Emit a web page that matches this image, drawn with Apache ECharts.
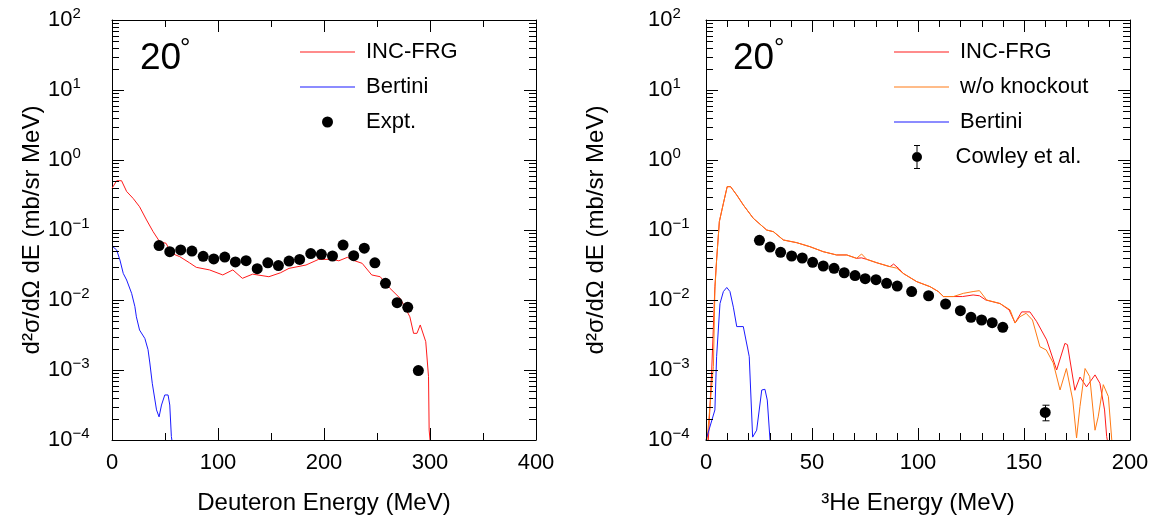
<!DOCTYPE html>
<html>
<head>
<meta charset="utf-8">
<title>20 deg spectra</title>
<script src="https://cdn.jsdelivr.net/npm/echarts@6/dist/echarts.min.js"></script>
<style>
  html, body { margin: 0; padding: 0; background: #fff; }
  #chart { width: 1158px; height: 520px; }
</style>
</head>
<body>
<div id="chart"></div>
<script>
// ---- deuteron panel (left) ----
const dIncE = [0, 4.4, 9, 13.8, 20, 26, 32.6, 38.8, 45, 51, 56, 63.8, 73, 79.5, 92, 104.5, 114, 123, 132.7, 148, 159, 167, 183, 195, 208, 214, 222, 227, 236, 245, 253, 262, 272, 281, 284.5, 287.7, 290.8, 292.3, 296, 298.6, 299.2, 300];
const dIncV = [0.394, 0.506, 0.506, 0.355, 0.282, 0.215, 0.139, 0.0946, 0.068, 0.0646, 0.0465, 0.0417, 0.0341, 0.0293, 0.0269, 0.0228, 0.0269, 0.0204, 0.0234, 0.0215, 0.0245, 0.0283, 0.0316, 0.0381, 0.0381, 0.0363, 0.0407, 0.0372, 0.0334, 0.0228, 0.0215, 0.0148, 0.0105, 0.00575, 0.00334, 0.00334, 0.0044, 0.0044, 0.00254, 0.000804, 0.000139, 0.0001];

const dBerE = [0, 4.4, 7.5, 10.6, 13.8, 18.5, 21.6, 23, 26, 31, 34, 35.7, 38, 42, 44.4, 46.7, 49.8, 52.9, 54.5, 56, 56.5];
const dBerV = [0.059, 0.0518, 0.0372, 0.024, 0.0193, 0.01245, 0.00803, 0.00575, 0.00372, 0.00282, 0.00195, 0.00126, 0.000646, 0.000269, 0.000214, 0.000316, 0.00044, 0.00044, 0.000316, 0.000112, 0.0001];

const dExpE = [44.4, 54.5, 64.8, 75.4, 86, 96, 106.4, 116.4, 126.5, 137, 147, 157, 167, 177, 187.5, 197.5, 208, 218, 228, 238, 248, 258, 269, 279, 289];
const dExpV = [0.06, 0.049, 0.052, 0.05, 0.042, 0.0386, 0.041, 0.035, 0.0365, 0.028, 0.034, 0.031, 0.036, 0.038, 0.046, 0.045, 0.0425, 0.061, 0.043, 0.055, 0.034, 0.0173, 0.00917, 0.00785, 0.00098];

// ---- 3He panel (right) ----
const hIncE = [1.1, 2.7, 4.2, 5, 6.3, 8.2, 10, 11.6, 14.5, 17.6, 22.3, 28.6, 31.8, 36.5, 42.8, 49, 55.3, 61.6, 66.4, 71, 73.4, 75.8, 80.5, 86.8, 88.5, 91, 93, 99.4, 105.7, 109.6, 112, 116.7, 121, 126, 129, 132, 138.7, 143, 145.8, 148.9, 152.8, 156, 160.7, 165.4, 169.3, 170.5, 174, 176.4, 179.5, 183.5, 185.8, 188, 189, 189.3];
const hIncV = [0.0001, 0.001, 0.0155, 0.0372, 0.132, 0.24, 0.416, 0.416, 0.316, 0.228, 0.147, 0.1, 0.0946, 0.072, 0.0659, 0.0578, 0.049, 0.044, 0.044, 0.0394, 0.04, 0.0381, 0.0341, 0.0299, 0.0326, 0.028, 0.024, 0.0183, 0.0155, 0.0132, 0.0112, 0.0112, 0.0112, 0.0118, 0.0115, 0.01, 0.0089, 0.0072, 0.0047, 0.00676, 0.00676, 0.0049, 0.00269, 0.001, 0.0024, 0.0023, 0.000513, 0.000794, 0.000575, 0.000851, 0.000646, 0.000269, 0.000112, 0.0001];

const hNoKoE = [0.5, 3.5, 4.2, 5, 6.3, 8.2, 10, 11.6, 14.5, 17.6, 22.3, 28.6, 31.8, 36.5, 42.8, 49, 55.3, 61.6, 66.4, 71, 73.4, 75.8, 80.5, 86.8, 90, 93, 99.4, 105.7, 109.6, 112, 116.7, 121.4, 126, 129, 132.4, 138.7, 143.4, 145.8, 148, 151, 154, 157.5, 160.5, 163.8, 167, 170, 173, 174.8, 176.4, 178.8, 181, 183.5, 185, 187.4, 189.8, 191.4];
const hNoKoV = [0.0001, 0.00112, 0.0138, 0.0372, 0.132, 0.24, 0.416, 0.416, 0.316, 0.228, 0.147, 0.1, 0.0946, 0.072, 0.0659, 0.0578, 0.049, 0.044, 0.044, 0.0394, 0.0454, 0.0381, 0.0341, 0.0299, 0.0285, 0.024, 0.0183, 0.0155, 0.0132, 0.0112, 0.0112, 0.01245, 0.0132, 0.0136, 0.01, 0.0089, 0.00724, 0.00468, 0.00575, 0.00646, 0.00518, 0.00215, 0.00193, 0.00126, 0.000518, 0.00105, 0.000372, 0.000107, 0.0003, 0.00105, 0.000804, 0.000138, 0.000214, 0.000617, 0.000417, 0.0001];

const hBerE = [0, 4.2, 5, 6.6, 8.2, 9.8, 11.3, 12.9, 14.5, 17.6, 20.4, 22, 23.9, 26.3, 27.8, 28.9, 30.2];
const hBerV = [0.0001, 0.000269, 0.00155, 0.0089, 0.0132, 0.0151, 0.0132, 0.0079, 0.00417, 0.00417, 0.00155, 0.00011, 0.000138, 0.000518, 0.00053, 0.000372, 0.0001];

const hExpE = [25.2, 30.2, 35.2, 40.4, 45.4, 50.3, 55.3, 60.4, 65.2, 70.3, 75.1, 80.2, 85.2, 90.2, 97, 105, 113, 120, 125, 130, 135, 140, 160];
const hExpV = [0.0713, 0.057, 0.048, 0.0425, 0.0398, 0.0345, 0.0306, 0.0283, 0.0245, 0.0223, 0.0202, 0.0195, 0.0173, 0.0158, 0.0132, 0.0115, 0.00877, 0.00705, 0.00565, 0.00518, 0.00474, 0.00407, 0.000248];
// visible error bar (energy, low, high)
const hErrBars = [[160, 0.000188, 0.000314]];

// ---- tick positions ----
const dXMajor = [0, 100, 200, 300, 400];
const dXMinor = [50, 150, 250, 350];
const hXMajor = [0, 50, 100, 150, 200];
const hXMinor = [10, 20, 30, 40, 60, 70, 80, 90, 110, 120, 130, 140, 160, 170, 180, 190];
const decades = [1e-4, 1e-3, 1e-2, 1e-1, 1, 10, 100];
const minorSteps = [2, 3, 4, 5, 6, 7, 8, 9];

const zip = (xs, ys) => xs.map((x, i) => [x, ys[i]]);

const FONT = '"Liberation Sans", Arial, sans-serif';
const RED = '#ff1a1a', BLUE = '#1a1aff', ORANGE = '#ff7a14';

const decadeLabel = (v) => {
    let e = Math.round(Math.log10(v));
    return '{b|10}{s|' + (e < 0 ? '\u2212' + (-e) : e) + '}';
};

const makeX = (grid, max, interval, pos, name) => ({
    type: 'value', gridIndex: grid, min: 0, max: max, interval: interval, position: pos,
    axisLine: { show: true, onZero: false, lineStyle: { color: '#000', width: 1 } },
    axisTick: { show: false },
    minorTick: { show: false },
    splitLine: { show: false },
    axisLabel: { show: pos === 'bottom', color: '#000', fontSize: 22, fontFamily: FONT, margin: 12 },
    name: name || '', nameLocation: 'middle', nameGap: 51,
    nameTextStyle: { color: '#000', fontSize: 24, fontFamily: FONT }
});

const makeY = (grid, pos, margin, name, gap) => ({
    type: 'log', logBase: 10, gridIndex: grid, min: 1e-4, max: 100, splitNumber: 6, position: pos,
    axisLine: { show: true, onZero: false, lineStyle: { color: '#000', width: 1 } },
    axisTick: { show: false },
    minorTick: { show: false },
    splitLine: { show: false },
    axisLabel: {
        show: pos === 'left', align: 'left', margin: margin, formatter: decadeLabel,
        rich: {
            b: { color: '#000', fontSize: 22, fontFamily: FONT, lineHeight: 28 },
            s: { color: '#000', fontSize: 15, fontFamily: FONT, lineHeight: 15, verticalAlign: 'top' }
        }
    },
    name: name || '', nameLocation: 'middle', nameRotate: 90, nameGap: gap || 0,
    nameTextStyle: { color: '#000', fontSize: 24, fontFamily: FONT }
});

function renderErrorBar(params, api) {
    const lo = api.coord([api.value(0), api.value(1)]);
    const hi = api.coord([api.value(0), api.value(2)]);
    const x = Math.round(lo[0]) + 0.5;
    const st = { stroke: '#000', lineWidth: 1 };
    return {
        type: 'group', children: [
            { type: 'line', shape: { x1: x, y1: lo[1], x2: x, y2: hi[1] }, style: st },
            { type: 'line', shape: { x1: x - 3, y1: lo[1], x2: x + 4, y2: lo[1] }, style: st },
            { type: 'line', shape: { x1: x - 3, y1: hi[1], x2: x + 4, y2: hi[1] }, style: st }
        ]
    };
}

const lineSeries = (name, color, xi, data) => ({
    type: 'line', name: name, xAxisIndex: xi, yAxisIndex: xi, data: data,
    symbol: 'none', showSymbol: false, clip: true, lineStyle: { color: color, width: 1 }, itemStyle: { color: color },
    emphasis: { disabled: true }, z: 3
});

const dotSeries = (name, xi, data) => ({
    type: 'scatter', name: name, xAxisIndex: xi, yAxisIndex: xi, data: data,
    symbol: 'circle', symbolSize: 11, itemStyle: { color: '#000', opacity: 1 },
    emphasis: { disabled: true }, z: 4
});

const lineIcon = 'path://M0 0H100V2H0Z';
const errIcon = 'path://M5.5 0H6.5V24H5.5Z M3 0H9V1H3Z M3 23H9V24H3Z M1 12A5 5 0 1 1 11 12A5 5 0 1 1 1 12Z';

const legendBase = {
    orient: 'vertical', itemWidth: 55, itemHeight: 11, itemGap: 11, selectedMode: false,
    textStyle: { color: '#000', fontSize: 22, fontFamily: FONT, lineHeight: 24, padding: [0, 0, 0, 6] }
};

const chart = echarts.init(document.getElementById('chart'));
const option = {
    animation: false,
    grid: [
        { left: 112, top: 20, width: 424, height: 420, outerBoundsMode: 'none' },
        { left: 706, top: 20, width: 424, height: 420, outerBoundsMode: 'none' }
    ],
    xAxis: [
        makeX(0, 400, 100, 'bottom', 'Deuteron Energy (MeV)'),
        makeX(0, 400, 100, 'top'),
        makeX(1, 200, 50, 'bottom', '\u00b3He Energy (MeV)'),
        makeX(1, 200, 50, 'top')
    ],
    yAxis: [
        makeY(0, 'left', 64, 'd\u00b2\u03c3/d\u03a9 dE (mb/sr MeV)', 62),
        makeY(0, 'right', 0),
        makeY(1, 'left', 58, 'd\u00b2\u03c3/d\u03a9 dE (mb/sr MeV)', 98),
        makeY(1, 'right', 0)
    ],
    legend: [
        Object.assign({}, legendBase, { left: 295, top: 35, data: [
            { name: 'INC-FRG', icon: lineIcon }, { name: 'Bertini', icon: lineIcon }, { name: 'Expt.', icon: 'circle' }] }),
        Object.assign({}, legendBase, { left: 889, top: 35, data: [
            { name: 'INC-FRG', icon: lineIcon }, { name: 'w/o knockout', icon: lineIcon }, { name: 'Bertini', icon: lineIcon }] }),
        Object.assign({}, legendBase, { left: 907, top: 140, itemHeight: 24, data: [{ name: 'Cowley et al.', icon: errIcon }] })
    ],
    graphic: [
        { type: 'text', left: 140, top: 40, style: { text: '20', font: '37px ' + FONT, fill: '#000' } },
        { type: 'text', left: 180, top: 36, style: { text: '\u00b0', font: '26px ' + FONT, fill: '#000' } },
        { type: 'text', left: 733, top: 40, style: { text: '20', font: '37px ' + FONT, fill: '#000' } },
        { type: 'text', left: 774, top: 36, style: { text: '\u00b0', font: '26px ' + FONT, fill: '#000' } }
    ],
    series: [
        lineSeries('INC-FRG', RED, 0, zip(dIncE, dIncV)),
        lineSeries('Bertini', BLUE, 0, zip(dBerE, dBerV)),
        dotSeries('Expt.', 0, zip(dExpE, dExpV)),
        lineSeries('INC-FRG', RED, 2, zip(hIncE, hIncV)),
        lineSeries('w/o knockout', ORANGE, 2, zip(hNoKoE, hNoKoV)),
        lineSeries('Bertini', BLUE, 2, zip(hBerE, hBerV)),
        dotSeries('Cowley et al.', 2, zip(hExpE, hExpV)),
        {
            type: 'custom', name: 'err', xAxisIndex: 2, yAxisIndex: 2, data: hErrBars,
            renderItem: renderErrorBar, encode: { x: 0, y: [1, 2] }, silent: true, z: 4
        }
    ]
};
chart.setOption(option);

// inward ticks on all four sides, as broken line segments placed through the panel's scales
function tickSegments(xi, xMajor, xMinor, xMin, xMax) {
    const finder = { xAxisIndex: xi, yAxisIndex: xi };
    const toPx = (p) => chart.convertToPixel(finder, p);
    const toVal = (p) => chart.convertFromPixel(finder, p);
    const bl = toPx([xMin, 1e-4]), tr = toPx([xMax, 100]);
    const seg = [];
    const add = (a, b) => { seg.push(toVal(a), toVal(b), ['-', '-']); };
    const xTick = (v, len) => {
        const x = Math.round(toPx([v, 1])[0]) + 0.5;
        add([x, bl[1]], [x, bl[1] - len]);
        add([x, tr[1]], [x, tr[1] + len]);
    };
    const yTick = (v, len) => {
        const y = Math.round(toPx([xMin, v])[1]) + 0.5;
        add([bl[0], y], [bl[0] + len, y]);
        add([tr[0], y], [tr[0] - len, y]);
    };
    xMajor.forEach(v => xTick(v, 12));
    xMinor.forEach(v => xTick(v, 7));
    decades.forEach(v => yTick(v, 12));
    decades.slice(0, -1).forEach(d => minorSteps.forEach(m => yTick(m * d, 7)));
    return seg;
}

const tickLine = (name, xi, data) => ({
    type: 'line', name: name, xAxisIndex: xi, yAxisIndex: xi, data: data,
    symbol: 'none', showSymbol: false, connectNulls: false, clip: false, silent: true,
    lineStyle: { color: '#000', width: 1 }, itemStyle: { color: '#000' },
    emphasis: { disabled: true }, z: 5
});

option.series.push(
    tickLine('ticksL', 0, tickSegments(0, dXMajor, dXMinor, 0, 400)),
    tickLine('ticksR', 2, tickSegments(2, hXMajor, hXMinor, 0, 200))
);
chart.setOption(option);
</script>
</body>
</html>
